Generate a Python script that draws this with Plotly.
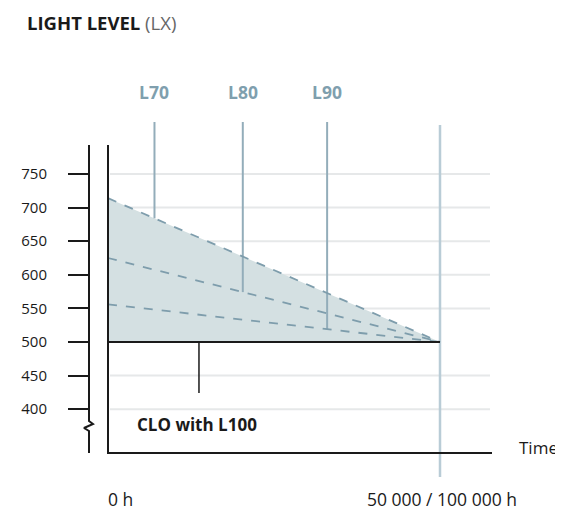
import plotly.graph_objects as go

# ---- data ----
y_ticks = [400, 450, 500, 550, 600, 650, 700, 750]
maintained_level = 500
end_time = 50000
series_names = ["L70", "L80", "L90"]
start_levels = [714, 625, 556]          # initial light level needed for each Lxx
marker_times = [7000, 20300, 33000]     # where the Lxx marker lines sit
clo_time = 13700
x_label_left = "0 h"
x_label_right = "50 000 / 100 000 h"

# ---- pixel <-> data helpers (layout only) ----
W, H = 563, 511
OFF = 8                     # page body margin
KX = end_time / 332.0       # hours per pixel
KY = 0.672                  # pixels per lux
def X(px):
    return (px - 108) * KX
def Y(py):
    return maintained_level + (342 - py) / KY

FONT = "Open Sans"
fig = go.Figure()

# gridlines
gx, gy = [], []
for v in y_ticks:
    if v == maintained_level:
        continue
    gx += [X(110), X(490), None]
    gy += [v, v, None]
fig.add_trace(go.Scatter(x=gx, y=gy, mode="lines",
                         line=dict(color="#e6e8e9", width=2), hoverinfo="skip"))

# shaded area under L70 curve
fig.add_trace(go.Scatter(x=[0, 0, end_time, 0], y=[maintained_level, start_levels[0], maintained_level, maintained_level],
                         mode="lines", fill="toself", fillcolor="#d4e0e2",
                         line=dict(width=0), hoverinfo="skip"))

# end-of-life vertical line
fig.add_trace(go.Scatter(x=[end_time, end_time], y=[Y(477), Y(125)], mode="lines",
                         line=dict(color="#b9ccd6", width=2.5), hoverinfo="skip"))

# Lxx marker lines down to their curves
for name, s, t in zip(series_names, start_levels, marker_times):
    yint = s + (maintained_level - s) * t / end_time
    fig.add_trace(go.Scatter(x=[t, t], y=[Y(122), yint], mode="lines",
                             line=dict(color="#93adba", width=2), hoverinfo="skip"))

# dashed degradation curves
for s in start_levels:
    fig.add_trace(go.Scatter(x=[0, end_time], y=[s, maintained_level], mode="lines",
                             line=dict(color="#7e9dac", width=1.8, dash="dash"), hoverinfo="skip"))

# CLO maintained level line
fig.add_trace(go.Scatter(x=[0, end_time], y=[maintained_level, maintained_level], mode="lines",
                         line=dict(color="#1a1a1a", width=2), hoverinfo="skip"))
fig.add_trace(go.Scatter(x=[clo_time, clo_time], y=[maintained_level, Y(393)], mode="lines",
                         line=dict(color="#1a1a1a", width=1.5), hoverinfo="skip"))

# inner frame (left + bottom)
fig.add_trace(go.Scatter(x=[0, 0, X(492)], y=[Y(145), Y(453), Y(453)], mode="lines",
                         line=dict(color="#1a1a1a", width=2), hoverinfo="skip"))

# outer axis line with break
fig.add_trace(go.Scatter(x=[X(89), X(89), X(93), X(84), X(89), X(89)],
                         y=[Y(145), Y(421), Y(424), Y(428), Y(431), Y(453)], mode="lines",
                         line=dict(color="#1a1a1a", width=2), hoverinfo="skip"))

ann = []
for name, t in zip(series_names, marker_times):
    ann.append(dict(x=t, y=Y(92), text="<b>%s</b>" % name, showarrow=False,
                    font=dict(family=FONT, size=17.5, color="#7f9fae"), xanchor="center", yanchor="middle"))
ann += [
    dict(x=X(135), y=Y(424), text="<b>CLO with L100</b>", showarrow=False,
         font=dict(family=FONT, size=17, color="#1a1a1a"), xanchor="left", yanchor="middle"),
    dict(x=X(517), y=Y(447), text="Time", showarrow=False,
         font=dict(family=FONT, size=17, color="#1a1a1a"), xanchor="left", yanchor="middle"),
    dict(x=X(106), y=Y(499), text=x_label_left, showarrow=False,
         font=dict(family=FONT, size=17.5, color="#1a1a1a"), xanchor="left", yanchor="middle"),
    dict(x=X(442), y=Y(499), text=x_label_right, showarrow=False,
         font=dict(family=FONT, size=17.5, color="#1a1a1a"), xanchor="center", yanchor="middle"),
    dict(x=X(25), y=Y(22), text="<b>LIGHT LEVEL</b> <span style='color:#666'>(LX)</span>", showarrow=False,
         font=dict(family=FONT, size=18.5, color="#1a1a1a"), xanchor="left", yanchor="middle"),
]

fig.update_layout(
    width=W - OFF, height=H - OFF, margin=dict(l=0, r=0, t=0, b=0),
    paper_bgcolor="white", plot_bgcolor="white", showlegend=False,
    xaxis=dict(range=[X(OFF), X(W)], visible=False, domain=[0, 1]),
    yaxis=dict(range=[Y(H), Y(OFF)], domain=[0, 1], anchor="free", position=(89 - OFF) / (W - OFF),
               tickvals=y_ticks, ticks="outside", ticklen=21, tickwidth=2, tickcolor="#1a1a1a",
               showline=False, showgrid=False, zeroline=False, ticklabelstandoff=18,
               tickfont=dict(family=FONT, size=15, color="#1a1a1a")),
    annotations=ann,
)

fig.write_html("out.html")
